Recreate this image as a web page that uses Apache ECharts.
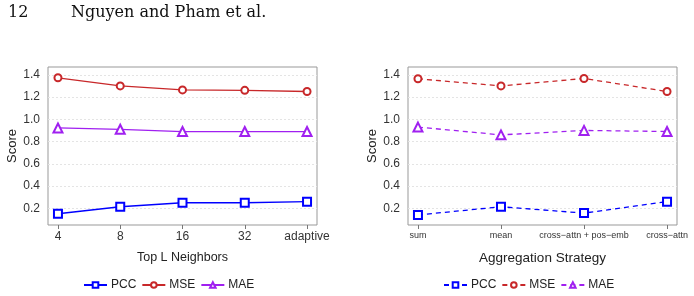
<!DOCTYPE html>
<html>
<head>
<meta charset="utf-8">
<script src="https://cdn.jsdelivr.net/npm/echarts@6/dist/echarts.min.js"></script>
<style>
  html, body { margin: 0; padding: 0; background: #fff; }
  #chart { width: 694px; height: 296px; }
</style>
</head>
<body>
<div id="chart"></div>
<script>
// 左图: Top L Neighbors
const neighborCats = ['4', '8', '16', '32', 'adaptive'];
const pccNeighbors = [0.151, 0.214, 0.25, 0.25, 0.26];
const mseNeighbors = [1.373, 1.30, 1.264, 1.26, 1.25];
const maeNeighbors = [0.922, 0.91, 0.89, 0.89, 0.89];
// 右图: Aggregation Strategy
const aggCats = ['sum', 'mean', 'cross\u2212attn + pos\u2212emb', 'cross\u2212attn'];
const pccAgg = [0.14, 0.214, 0.157, 0.26];
const mseAgg = [1.364, 1.30, 1.367, 1.25];
const maeAgg = [0.93, 0.86, 0.90, 0.89];
// y轴刻度
const yTicks = [0.2, 0.4, 0.6, 0.8, 1.0, 1.2, 1.4];

const FONT = 'Liberation Sans';
const BLUE = '#0000ff', RED = '#c8282a', PURPLE = '#a020f0';

const toPts = arr => arr.map((v, i) => [i, v]);

function xAxisFor(gridIndex, cats, pad, labelSize, name, nameSize) {
  const idx = cats.map((c, i) => i);
  return {
    type: 'value', gridIndex: gridIndex,
    min: -pad, max: cats.length - 1 + pad,
    name: name, nameLocation: 'middle', nameGap: 26,
    nameTextStyle: { fontFamily: FONT, fontSize: nameSize, color: '#222' },
    axisLine: { show: false },
    axisTick: { show: true, length: 4, customValues: idx, lineStyle: { color: '#777' } },
    axisLabel: {
      customValues: idx, margin: 6,
      fontFamily: FONT, fontSize: labelSize, color: '#333',
      formatter: v => cats[Math.round(v)]
    },
    splitLine: { show: false }
  };
}

function yAxisFor(gridIndex, nameGap) {
  return {
    type: 'value', gridIndex: gridIndex,
    min: 0.05, max: 1.47,
    name: 'Score', nameLocation: 'middle', nameGap: nameGap,
    nameTextStyle: { fontFamily: FONT, fontSize: 13, color: '#222' },
    axisLine: { show: false },
    axisTick: { show: false, customValues: yTicks },
    axisLabel: {
      customValues: yTicks, margin: 8,
      fontFamily: FONT, fontSize: 12, color: '#333',
      formatter: v => v.toFixed(1)
    },
    splitLine: {
      show: true, customValues: yTicks,
      lineStyle: { color: '#e4e4e4', type: [2, 2], width: 1 }
    }
  };
}

function lineSeries(name, data, idx, color, symbol, size, dashed) {
  return {
    name: name, type: 'line',
    xAxisIndex: idx, yAxisIndex: idx,
    data: toPts(data),
    symbol: symbol, symbolSize: size,
    lineStyle: { color: color, width: 1.3, type: dashed ? [5, 4] : 'solid' },
    itemStyle: { color: color, borderColor: color, borderWidth: 1.3 },
    animation: false
  };
}

function legendFor(names, left) {
  return {
    data: names, left: left, top: 279, padding: 0,
    itemWidth: 23, itemHeight: 7, itemGap: 5,
    formatter: n => n.trim(),
    textStyle: { fontFamily: FONT, fontSize: 12, color: '#222', padding: [0, 0, 0, -1] }
  };
}

const chart = echarts.init(document.getElementById('chart'), null, { renderer: 'canvas' });

const option = {
  backgroundColor: '#fff',
  animation: false,
  graphic: [
    { type: 'text', left: 8, top: 5, style: { text: '12', fontFamily: 'DejaVu Serif', fontSize: 16, fill: '#111' } },
    { type: 'text', left: 71, top: 5, style: { text: 'Nguyen and Pham et al.', fontFamily: 'DejaVu Serif', fontSize: 16, fill: '#111' } }
  ],
  grid: [
    { left: 48, right: 377, top: 67, bottom: 71, show: true, borderColor: '#999', borderWidth: 1, backgroundColor: 'transparent' },
    { left: 408, right: 17, top: 67, bottom: 71, show: true, borderColor: '#999', borderWidth: 1, backgroundColor: 'transparent' }
  ],
  xAxis: [
    xAxisFor(0, neighborCats, 0.16, 12, 'Top L Neighbors', 12.5),
    xAxisFor(1, aggCats, 0.12, 9, 'Aggregation Strategy', 13.5)
  ],
  yAxis: [yAxisFor(0, 28), yAxisFor(1, 29)],
  legend: [
    legendFor(['PCC', 'MSE', 'MAE'], 83),
    legendFor(['PCC ', 'MSE ', 'MAE '], 443)
  ],
  series: [
    lineSeries('PCC', pccNeighbors, 0, BLUE, 'emptyRect', 8, false),
    lineSeries('MSE', mseNeighbors, 0, RED, 'emptyCircle', 7, false),
    lineSeries('MAE', maeNeighbors, 0, PURPLE, 'emptyTriangle', 9, false),
    lineSeries('PCC ', pccAgg, 1, BLUE, 'emptyRect', 8, true),
    lineSeries('MSE ', mseAgg, 1, RED, 'emptyCircle', 7, true),
    lineSeries('MAE ', maeAgg, 1, PURPLE, 'emptyTriangle', 9, true)
  ]
};

chart.setOption(option);
</script>
</body>
</html>
